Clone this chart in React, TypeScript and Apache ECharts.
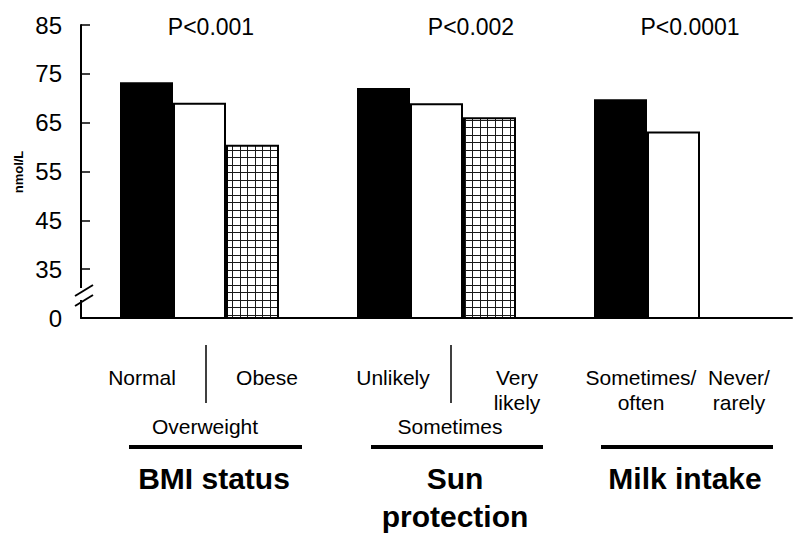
import React, { useEffect, useRef } from "react";
import * as echarts from "echarts";

// ---- data ----
const categories = ["BMI status", "Sun protection", "Milk intake"];
const firstLevel = [73.3, 72.1, 69.8]; // Normal / Unlikely / Sometimes-often
const secondLevel = [69.1, 69.0, 63.2]; // Overweight / Sometimes / Never-rarely
const thirdLevel: (number | null)[] = [60.5, 66.1, null]; // Obese / Very likely
const pValues = ["P<0.001", "P<0.002", "P<0.0001"];
const yMin = 25; // drawn as "0" (broken axis)
const yMax = 85;
const yInterval = 10;
const yLabelForMin = "0";
const yAxisName = "nmol/L";

const FONT = '"Liberation Sans", Arial, Helvetica, sans-serif';

function makeGridPattern() {
  const c = document.createElement("canvas");
  c.width = 15;
  c.height = 15;
  const ctx = c.getContext("2d")!;
  ctx.fillStyle = "#ffffff";
  ctx.fillRect(0, 0, 15, 15);
  ctx.fillStyle = "#1a1a1a";
  ctx.fillRect(0, 0, 1, 15);
  ctx.fillRect(7, 0, 1, 15);
  ctx.fillRect(0, 0, 15, 1);
  ctx.fillRect(0, 7, 15, 1);
  return {
    image: c.toDataURL(),
    repeat: "repeat",
    imageWidth: 15,
    imageHeight: 15,
  } as any;
}

function txt(
  text: string,
  x: number,
  y: number,
  size: number,
  bold = false,
  align = "center"
) {
  return {
    type: "text",
    x,
    y,
    z: 100,
    style: {
      text,
      fill: "#000",
      font: `${bold ? "bold " : ""}${size}px ${FONT}`,
      align,
      textAlign: align,
      verticalAlign: "middle",
      textVerticalAlign: "middle",
    },
  };
}

function line(x1: number, y1: number, x2: number, y2: number, w: number) {
  return {
    type: "line",
    z: 100,
    shape: { x1, y1, x2, y2 },
    style: { stroke: "#000", lineWidth: w },
  };
}

export default function App() {
  const ref = useRef<HTMLDivElement>(null);

  useEffect(() => {
    if (!ref.current) return;
    const chart = echarts.init(ref.current, null, { renderer: "svg" });

    const option: any = {
      animation: false,
      backgroundColor: "#ffffff",
      grid: { left: 81, right: 8, top: 25, bottom: 222, containLabel: false },
      xAxis: {
        type: "category",
        data: categories,
        axisLine: { show: true, lineStyle: { color: "#000", width: 2 } },
        axisTick: { show: false },
        axisLabel: { show: false },
        splitLine: { show: false },
      },
      yAxis: {
        type: "value",
        min: yMin,
        max: yMax,
        interval: yInterval,
        axisLine: { show: true, lineStyle: { color: "#000", width: 2 } },
        axisTick: {
          show: true,
          inside: true,
          length: 9,
          lineStyle: { color: "#000", width: 1.5 },
        },
        axisLabel: {
          color: "#000",
          fontSize: 24,
          fontFamily: FONT,
          margin: 19,
          formatter: (v: number) => (v === yMin ? yLabelForMin : String(v)),
        },
        splitLine: { show: false },
      },
      series: [
        {
          type: "bar",
          data: firstLevel,
          barWidth: 53,
          barGap: "0%",
          itemStyle: { color: "#000", borderColor: "#000", borderWidth: 1.5 },
        },
        {
          type: "bar",
          data: secondLevel,
          barWidth: 53,
          barGap: "0%",
          itemStyle: { color: "#fff", borderColor: "#000", borderWidth: 2 },
        },
        {
          type: "bar",
          data: thirdLevel,
          barWidth: 53,
          barGap: "0%",
          itemStyle: {
            color: makeGridPattern(),
            borderColor: "#000",
            borderWidth: 2,
          },
        },
      ],
      graphic: [
        // axis break
        {
          type: "rect",
          z: 99,
          shape: { x: 77, y: 288, width: 8, height: 12 },
          style: { fill: "#fff" },
        },
        line(75, 296, 93, 285, 2),
        line(75, 306, 93, 295, 2),
        // y axis name
        {
          type: "text",
          x: 18,
          y: 172,
          rotation: Math.PI / 2,
          z: 100,
          style: {
            text: yAxisName,
            fill: "#000",
            font: `bold 13px ${FONT}`,
            align: "center",
            textAlign: "center",
            verticalAlign: "middle",
            textVerticalAlign: "middle",
          },
        },
        // p-values
        txt(pValues[0], 211, 27, 23),
        txt(pValues[1], 471, 27, 23),
        txt(pValues[2], 690, 27, 23),
        // BMI group
        txt("Normal", 142, 377, 21),
        line(206, 345, 206, 403, 1.5),
        txt("Obese", 267, 377, 21),
        txt("Overweight", 205, 426, 21),
        line(129, 447, 302, 447, 4),
        txt(categories[0], 214, 478, 30, true),
        // Sun group
        txt("Unlikely", 393, 377, 21),
        line(451, 345, 451, 403, 1.5),
        txt("Very", 517, 377, 21),
        txt("likely", 517, 402, 21),
        txt("Sometimes", 450, 426, 21),
        line(371, 447, 543, 447, 4),
        txt("Sun", 455, 478, 30, true),
        txt("protection", 455, 516, 30, true),
        // Milk group
        txt("Sometimes/", 641, 377, 21),
        txt("often", 641, 402, 21),
        txt("Never/", 739, 377, 21),
        txt("rarely", 739, 402, 21),
        line(601, 447, 773, 447, 4),
        txt(categories[2], 685, 478, 30, true),
      ],
    };

    chart.setOption(option);
    return () => chart.dispose();
  }, []);

  return (
    <div
      ref={ref}
      style={{
        position: "fixed",
        left: 0,
        top: 0,
        width: 800,
        height: 540,
        background: "#fff",
      }}
    />
  );
}
